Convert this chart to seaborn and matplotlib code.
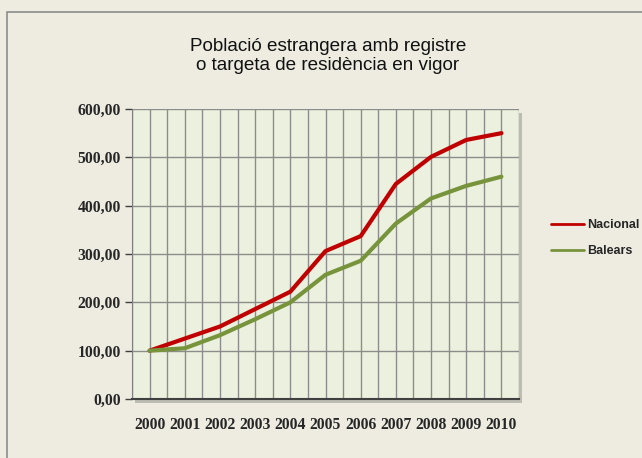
import numpy as np
import pandas as pd
import seaborn as sns
import matplotlib.pyplot as plt
from matplotlib.patches import Rectangle
from matplotlib.lines import Line2D

## data
years = ['2000', '2001', '2002', '2003', '2004', '2005', '2006', '2007', '2008', '2009', '2010']
nacional = [100, 125, 150, 186, 222, 306, 337, 445, 501, 536, 550]
balears = [100, 105, 132, 165, 200, 257, 286, 363, 415, 441, 460]
series_names = ['Nacional', 'Balears']
series_colors = ['#C00000', '#77933C']

df = pd.DataFrame({'year': years * 2,
                   'pos': list(range(len(years))) * 2,
                   'valor': nacional + balears,
                   'serie': [series_names[0]] * len(years) + [series_names[1]] * len(years)})

## plot
sns.set_style('white')
plt.rcParams['font.family'] = ['Liberation Sans', 'DejaVu Sans']

fig = plt.figure(figsize=(6.42, 4.58), dpi=100)
fig.patch.set_facecolor('#EEECE1')

## frame of the chart
fig.patches.append(Rectangle((7 / 642, -0.01), 1.0, 1 - 12 / 458 + 0.01, transform=fig.transFigure,
                             facecolor='none', edgecolor='#8C8C8C', lw=1.2, zorder=0))

ax_pos = [132 / 642, 1 - 399 / 458, 387 / 642, 290 / 458]
## shadow of the plot area
fig.patches.append(Rectangle((ax_pos[0] + 3 / 642, ax_pos[1] - 4 / 458), ax_pos[2], ax_pos[3],
                             transform=fig.transFigure, facecolor='#A8A8A0', edgecolor='none',
                             alpha=0.7, zorder=0))
ax = fig.add_axes(ax_pos)
ax.set_zorder(2)
ax.set_facecolor('#EBF1DE')

sns.lineplot(data=df, x='pos', y='valor', hue='serie', palette=series_colors,
             linewidth=3, ax=ax, legend=False, zorder=3)

ax.set_xlim(-0.5, len(years) - 0.5)
ax.set_ylim(0, 600)
ax.set_yticks(np.arange(0, 601, 100))
ax.set_yticklabels(['%d,00' % v for v in np.arange(0, 601, 100)])
ax.set_xticks(range(len(years)))
ax.set_xticklabels(years)
ax.set_xticks(np.arange(-0.5, len(years), 1.0), minor=True)
ax.grid(True, which='both', axis='x', color='#8C8C8C', lw=1)
ax.grid(True, which='major', axis='y', color='#8C8C8C', lw=1)
ax.set_axisbelow(True)

for lab in ax.get_xticklabels() + ax.get_yticklabels():
    lab.set_fontfamily('Liberation Serif')
    lab.set_fontweight('bold')
    lab.set_fontsize(11.3)
ax.tick_params(axis='x', which='major', length=0, pad=13)
ax.tick_params(axis='x', which='minor', length=5, width=1, color='#404040', direction='out')
ax.tick_params(axis='y', length=5, width=1, color='#404040', direction='out', left=True, pad=3)

for s in ['top', 'right']:
    ax.spines[s].set_visible(False)
ax.spines['left'].set_color('#808080')
ax.spines['bottom'].set_color('#404040')
ax.spines['bottom'].set_linewidth(1.5)
ax.set_xlabel('')
ax.set_ylabel('')

fig.text(328 / 642, 1 - 56 / 458, 'Població estrangera amb registre\no targeta de residència en vigor',
         ha='center', va='center', fontsize=13.6, linespacing=1.2, color='#111111')

handles = [Line2D([], [], color=c, lw=2) for c in series_colors]
fig.legend(handles, series_names, loc='center left', bbox_to_anchor=(540 / 642, 1 - 238 / 458),
           frameon=False, handlelength=2.6, handletextpad=0.3, labelspacing=1.1,
           prop={'family': 'Liberation Sans', 'weight': 'bold', 'size': 9})

fig.savefig('out.png', dpi=100, facecolor=fig.get_facecolor())
